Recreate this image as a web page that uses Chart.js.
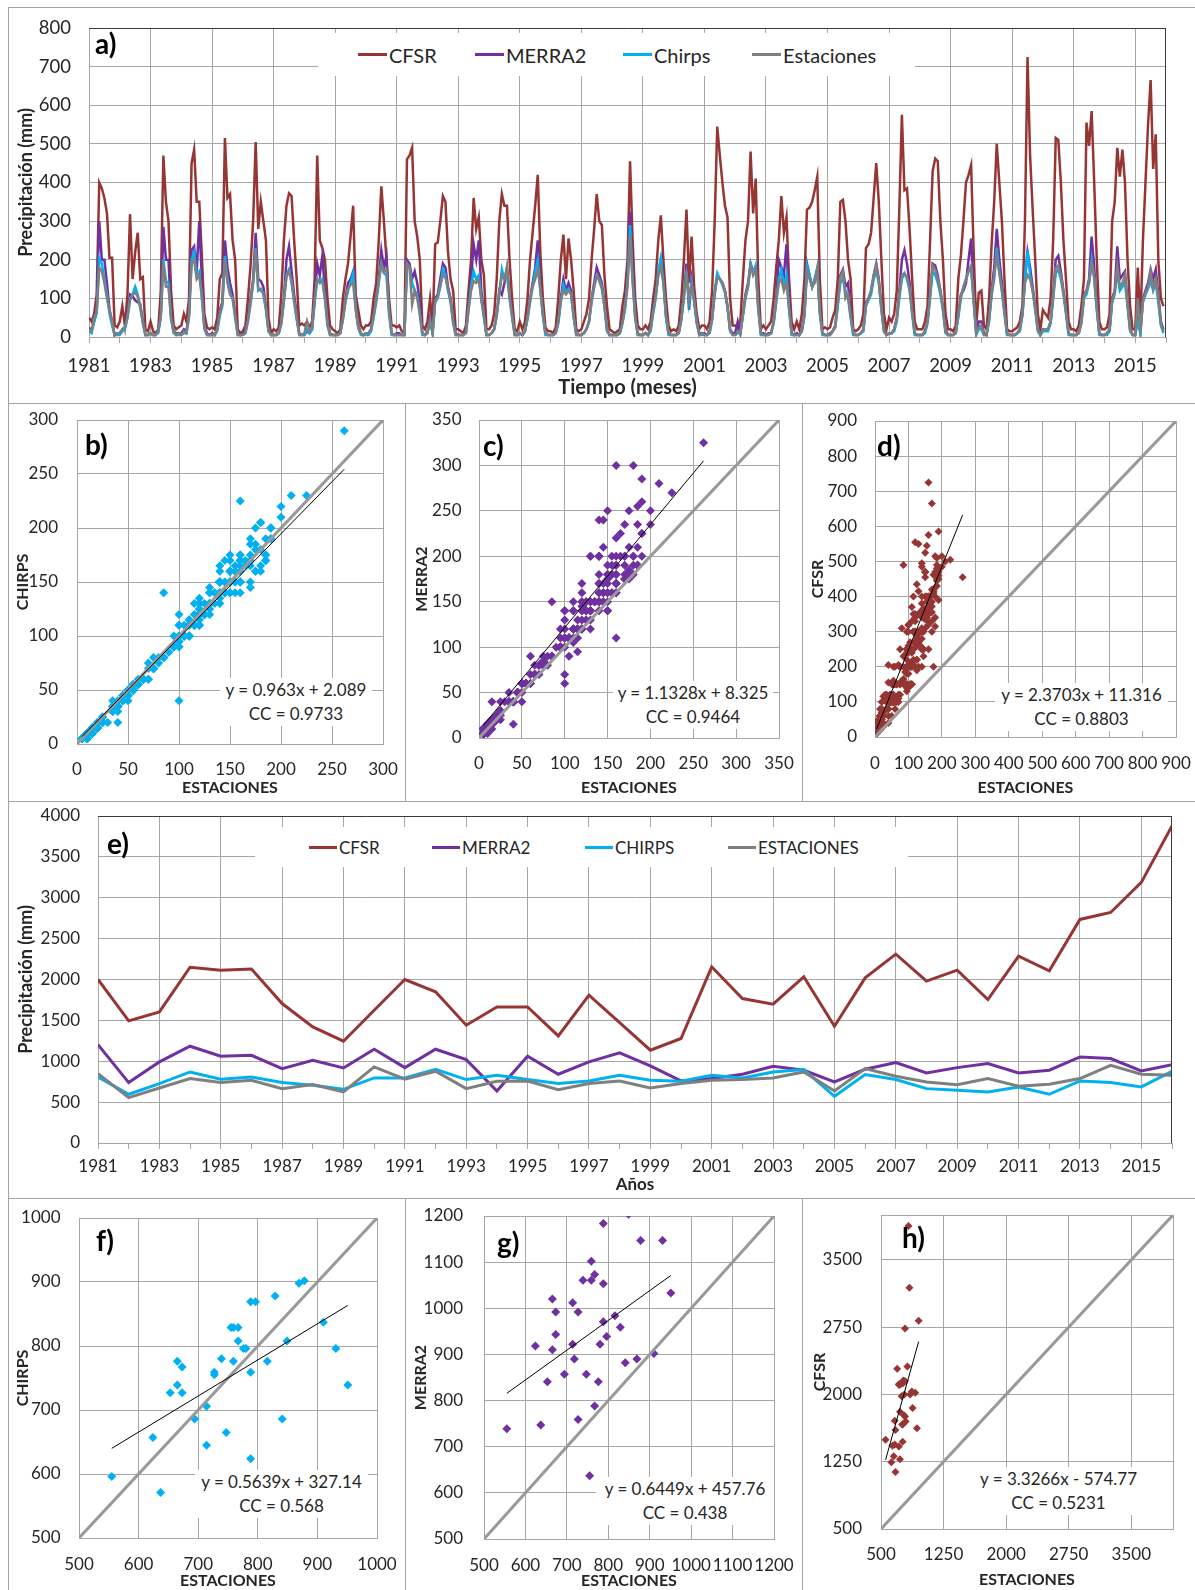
<!DOCTYPE html>
<html lang="es">
<head>
<meta charset="UTF-8">
<title>Precipitación mensual y anual</title>
<script src="https://cdn.jsdelivr.net/npm/chart.js"></script>
<style>
  body { margin: 0; background: #fff; }
  #hoja { position: relative; width: 1195px; height: 1590px; overflow: hidden; font-family: Lato, sans-serif; color: #262626; }
  .pane { position: absolute; }
  .rule { position: absolute; background: #a3a3a3; }
  .tag { position: absolute; font-weight: bold; font-size: 28px; line-height: 30px; color: #000; }
  .leyenda { position: absolute; background: #fff; }
  .leyenda span { position: absolute; top: 0; height: 100%; display: flex; align-items: center; white-space: nowrap; }
  .leyenda i { display: inline-block; height: 3px; margin-right: 2px; }
  .eq { position: absolute; background: #fff; text-align: center; font-size: 17px; line-height: 24px; white-space: nowrap; }
</style>
</head>
<body>
<div id="hoja">
  <canvas id="cA" class="pane"></canvas>
  <canvas id="cB" class="pane"></canvas>
  <canvas id="cC" class="pane"></canvas>
  <canvas id="cD" class="pane"></canvas>
  <canvas id="cE" class="pane"></canvas>
  <canvas id="cF" class="pane"></canvas>
  <canvas id="cG" class="pane"></canvas>
  <canvas id="cH" class="pane"></canvas>

  <!-- panel frame -->
  <div class="rule" style="left:8px;top:7px;width:1187px;height:1px"></div>
  <div class="rule" style="left:8px;top:7px;width:1px;height:1583px"></div>
  <div class="rule" style="left:8px;top:403px;width:1187px;height:1px"></div>
  <div class="rule" style="left:8px;top:801px;width:1187px;height:1px"></div>
  <div class="rule" style="left:8px;top:1198px;width:1187px;height:1px"></div>
  <div class="rule" style="left:405px;top:403px;width:1px;height:398px"></div>
  <div class="rule" style="left:802px;top:403px;width:1px;height:398px"></div>
  <div class="rule" style="left:405px;top:1198px;width:1px;height:392px"></div>
  <div class="rule" style="left:802px;top:1198px;width:1px;height:392px"></div>

  <div class="leyenda" style="left:318px;top:33px;width:597px;height:43px;font-size:20px">
    <span style="left:40px"><i style="width:29px;background:#963634"></i>CFSR</span>
    <span style="left:157px"><i style="width:29px;background:#7030a0"></i>MERRA2</span>
    <span style="left:305px"><i style="width:29px;background:#00b0f0"></i>Chirps</span>
    <span style="left:434px"><i style="width:29px;background:#7f7f7f"></i>Estaciones</span>
  </div>
  <div class="leyenda" style="left:255px;top:827px;width:653px;height:40px;font-size:17px">
    <span style="left:54px"><i style="width:28px;background:#963634"></i>CFSR</span>
    <span style="left:177px"><i style="width:28px;background:#7030a0"></i>MERRA2</span>
    <span style="left:330px"><i style="width:28px;background:#00b0f0"></i>CHIRPS</span>
    <span style="left:473px"><i style="width:28px;background:#7f7f7f"></i>ESTACIONES</span>
  </div>

  <div class="tag" style="left:95px;top:28px">a)</div>
  <div class="tag" style="left:85px;top:429px">b)</div>
  <div class="tag" style="left:483px;top:430px">c)</div>
  <div class="tag" style="left:877px;top:430px">d)</div>
  <div class="tag" style="left:107px;top:828px">e)</div>
  <div class="tag" style="left:96px;top:1225px">f)</div>
  <div class="tag" style="left:497px;top:1227px">g)</div>
  <div class="tag" style="left:902px;top:1222px">h)</div>
</div>

<script>
// monthly precipitation (mm), one row per year Jan..Dec, 1981-2015
const cfsrMensual = [
  [50, 40, 60, 110, 400, 385, 360, 320, 205, 205, 30, 25],
  [40, 80, 30, 110, 318, 150, 220, 270, 150, 155, 20, 15],
  [40, 15, 10, 20, 120, 470, 350, 300, 120, 30, 20, 25],
  [30, 60, 40, 100, 450, 485, 350, 350, 210, 60, 25, 20],
  [25, 20, 50, 150, 165, 515, 360, 370, 250, 200, 20, 10],
  [15, 30, 100, 185, 300, 505, 280, 350, 300, 250, 50, 10],
  [20, 15, 25, 110, 250, 340, 372, 365, 250, 150, 30, 35],
  [30, 40, 25, 40, 150, 470, 250, 230, 200, 100, 30, 20],
  [15, 10, 20, 100, 150, 190, 260, 340, 110, 70, 30, 20],
  [30, 30, 40, 100, 140, 250, 390, 300, 200, 100, 30, 30],
  [25, 30, 15, 10, 460, 470, 490, 300, 260, 200, 30, 20],
  [40, 100, 30, 240, 245, 300, 365, 350, 220, 150, 120, 20],
  [20, 15, 10, 30, 120, 200, 360, 280, 310, 200, 160, 20],
  [20, 30, 60, 150, 300, 370, 340, 340, 200, 100, 20, 15],
  [40, 20, 40, 100, 200, 270, 340, 420, 220, 100, 25, 15],
  [15, 10, 25, 100, 200, 265, 150, 255, 200, 120, 20, 15],
  [20, 40, 60, 100, 200, 280, 370, 300, 290, 160, 80, 20],
  [15, 10, 15, 20, 80, 120, 200, 455, 250, 100, 30, 20],
  [20, 30, 20, 40, 100, 150, 250, 315, 200, 100, 30, 15],
  [20, 15, 30, 100, 200, 330, 140, 260, 130, 60, 20, 30],
  [30, 20, 40, 120, 300, 545, 470, 400, 340, 310, 100, 30],
  [30, 20, 40, 150, 250, 300, 480, 320, 410, 150, 20, 30],
  [20, 30, 40, 100, 180, 250, 365, 270, 310, 150, 40, 20],
  [40, 20, 60, 150, 330, 335, 350, 380, 415, 150, 20, 25],
  [20, 25, 50, 70, 150, 350, 355, 300, 200, 150, 20, 15],
  [20, 30, 60, 230, 240, 270, 360, 450, 350, 200, 60, 20],
  [50, 40, 60, 120, 330, 575, 380, 385, 280, 150, 40, 20],
  [20, 20, 40, 80, 250, 430, 462, 455, 300, 200, 60, 20],
  [20, 15, 30, 150, 210, 300, 400, 420, 445, 220, 30, 115],
  [120, 30, 20, 100, 240, 350, 500, 400, 300, 150, 20, 15],
  [15, 20, 25, 40, 80, 300, 725, 470, 330, 200, 60, 20],
  [70, 60, 50, 100, 250, 515, 510, 400, 250, 150, 40, 20],
  [20, 15, 30, 80, 150, 555, 495, 585, 400, 200, 40, 20],
  [20, 25, 60, 300, 350, 490, 415, 485, 400, 200, 80, 20],
  [20, 180, 30, 250, 400, 550, 665, 435, 525, 200, 100, 80]
];
const merraMensual = [
  [25, 15, 40, 70, 300, 200, 200, 140, 70, 40, 5, 10],
  [10, 20, 25, 60, 110, 105, 95, 90, 85, 40, 5, 5],
  [10, 5, 5, 15, 60, 285, 200, 200, 60, 15, 10, 10],
  [10, 20, 15, 60, 225, 235, 170, 300, 150, 30, 10, 5],
  [10, 5, 20, 70, 90, 250, 180, 140, 110, 60, 10, 5],
  [10, 15, 50, 100, 150, 270, 150, 145, 130, 80, 20, 5],
  [5, 5, 10, 40, 100, 200, 235, 170, 110, 60, 10, 5],
  [5, 15, 10, 20, 100, 190, 160, 210, 120, 40, 10, 5],
  [5, 5, 10, 50, 100, 140, 150, 170, 80, 30, 10, 5],
  [10, 10, 20, 60, 100, 150, 225, 180, 210, 80, 10, 5],
  [10, 10, 5, 5, 200, 190, 150, 170, 140, 90, 10, 5],
  [15, 50, 10, 100, 110, 150, 190, 180, 130, 100, 50, 10],
  [5, 5, 5, 15, 80, 150, 240, 200, 250, 120, 60, 5],
  [5, 10, 20, 60, 120, 110, 140, 180, 110, 60, 10, 5],
  [10, 5, 15, 50, 100, 140, 180, 250, 130, 60, 10, 5],
  [5, 5, 10, 40, 100, 150, 120, 140, 120, 60, 10, 5],
  [5, 10, 20, 40, 100, 140, 180, 160, 140, 90, 20, 5],
  [5, 5, 5, 10, 40, 80, 150, 325, 170, 60, 10, 5],
  [5, 10, 5, 20, 70, 110, 160, 200, 160, 60, 10, 5],
  [5, 5, 10, 50, 110, 190, 70, 150, 100, 40, 10, 10],
  [10, 5, 15, 50, 110, 160, 150, 140, 120, 80, 20, 10],
  [10, 40, 10, 60, 110, 140, 190, 170, 180, 80, 10, 10],
  [5, 10, 10, 40, 100, 200, 180, 160, 240, 90, 10, 5],
  [10, 5, 20, 60, 190, 160, 130, 150, 175, 70, 10, 5],
  [5, 10, 15, 30, 90, 160, 175, 130, 140, 60, 10, 5],
  [5, 10, 20, 90, 100, 120, 160, 190, 150, 80, 20, 5],
  [10, 10, 20, 50, 120, 200, 225, 190, 140, 70, 10, 5],
  [5, 5, 15, 40, 110, 190, 185, 160, 120, 80, 20, 5],
  [5, 5, 10, 60, 110, 120, 140, 200, 255, 100, 10, 40],
  [40, 10, 5, 50, 120, 180, 280, 200, 140, 80, 10, 5],
  [5, 5, 10, 20, 60, 150, 220, 180, 130, 80, 20, 5],
  [20, 20, 20, 40, 110, 200, 210, 170, 120, 70, 10, 5],
  [5, 5, 10, 40, 110, 120, 150, 260, 180, 80, 10, 5],
  [5, 10, 20, 100, 120, 235, 150, 160, 170, 90, 20, 5],
  [5, 60, 10, 100, 120, 140, 175, 150, 175, 110, 40, 20]
];
const chirpsMensual = [
  [15, 10, 40, 60, 205, 190, 150, 110, 60, 30, 5, 5],
  [5, 15, 20, 50, 95, 110, 130, 110, 80, 35, 5, 5],
  [10, 5, 5, 10, 50, 200, 145, 140, 45, 10, 5, 5],
  [5, 10, 10, 50, 200, 220, 160, 170, 100, 20, 5, 5],
  [5, 5, 15, 55, 80, 210, 150, 115, 100, 50, 5, 5],
  [5, 10, 40, 85, 140, 230, 120, 125, 110, 70, 15, 5],
  [5, 5, 10, 35, 90, 160, 175, 140, 90, 45, 5, 5],
  [5, 20, 10, 20, 90, 150, 140, 150, 100, 30, 5, 5],
  [5, 5, 10, 45, 90, 120, 140, 165, 75, 25, 5, 5],
  [5, 5, 15, 50, 90, 140, 190, 165, 160, 60, 5, 5],
  [5, 5, 5, 5, 190, 180, 140, 120, 110, 60, 5, 5],
  [10, 40, 10, 90, 100, 130, 175, 160, 120, 90, 40, 5],
  [5, 5, 5, 10, 70, 130, 170, 150, 160, 100, 50, 5],
  [5, 10, 20, 55, 110, 175, 150, 160, 100, 50, 5, 5],
  [10, 5, 15, 45, 90, 130, 170, 200, 120, 55, 5, 5],
  [5, 5, 10, 35, 90, 135, 115, 125, 110, 50, 5, 5],
  [5, 10, 20, 40, 90, 130, 160, 150, 130, 80, 15, 5],
  [5, 5, 5, 10, 35, 70, 140, 290, 150, 50, 5, 5],
  [5, 10, 5, 15, 60, 100, 170, 205, 140, 50, 5, 5],
  [5, 5, 10, 45, 100, 170, 90, 140, 90, 35, 5, 5],
  [5, 5, 10, 45, 120, 165, 150, 135, 115, 75, 15, 5],
  [5, 10, 10, 55, 100, 130, 190, 165, 185, 70, 5, 5],
  [5, 5, 10, 35, 90, 150, 175, 130, 160, 70, 5, 5],
  [5, 5, 15, 55, 185, 160, 130, 150, 180, 60, 5, 5],
  [5, 5, 15, 25, 80, 140, 150, 120, 100, 50, 5, 5],
  [5, 10, 15, 80, 95, 110, 150, 170, 140, 70, 15, 5],
  [10, 10, 15, 40, 100, 150, 165, 150, 120, 60, 5, 5],
  [5, 5, 10, 35, 100, 170, 160, 140, 110, 70, 10, 5],
  [5, 5, 10, 50, 100, 130, 150, 170, 175, 90, 5, 20],
  [20, 5, 5, 40, 110, 150, 230, 170, 120, 60, 5, 5],
  [5, 5, 10, 15, 55, 150, 225, 160, 120, 70, 15, 5],
  [15, 15, 15, 35, 100, 165, 175, 150, 110, 60, 5, 5],
  [5, 5, 10, 35, 100, 110, 140, 200, 150, 70, 5, 5],
  [5, 5, 15, 90, 110, 170, 120, 130, 140, 80, 15, 5],
  [5, 40, 10, 90, 110, 125, 145, 120, 140, 90, 30, 10]
];
const estMensual = [
  [20, 15, 50, 65, 180, 170, 140, 100, 70, 40, 5, 10],
  [10, 20, 25, 50, 100, 110, 115, 105, 75, 40, 5, 5],
  [10, 5, 5, 15, 55, 190, 130, 130, 50, 15, 5, 10],
  [5, 15, 10, 55, 190, 200, 150, 160, 110, 25, 5, 5],
  [5, 5, 20, 60, 85, 200, 140, 110, 100, 55, 5, 5],
  [5, 10, 45, 90, 140, 225, 125, 120, 115, 75, 15, 5],
  [5, 5, 10, 35, 95, 155, 170, 145, 95, 50, 5, 5],
  [10, 40, 15, 25, 95, 150, 145, 145, 100, 35, 5, 5],
  [5, 5, 10, 45, 95, 125, 135, 140, 70, 25, 10, 5],
  [10, 10, 20, 55, 95, 145, 190, 170, 175, 70, 10, 5],
  [5, 5, 5, 5, 190, 180, 85, 120, 100, 60, 10, 5],
  [10, 45, 10, 95, 105, 135, 160, 155, 125, 95, 35, 5],
  [5, 5, 5, 10, 70, 120, 145, 140, 150, 95, 55, 5],
  [5, 10, 20, 55, 115, 160, 150, 180, 105, 55, 5, 5],
  [10, 5, 15, 50, 95, 130, 150, 175, 125, 60, 10, 5],
  [5, 5, 10, 40, 95, 120, 110, 120, 110, 55, 5, 5],
  [5, 10, 20, 40, 95, 130, 160, 145, 125, 80, 20, 5],
  [5, 5, 5, 10, 35, 75, 130, 262, 140, 50, 5, 5],
  [5, 10, 5, 20, 65, 105, 160, 180, 140, 55, 10, 5],
  [5, 5, 10, 45, 105, 160, 100, 135, 95, 40, 5, 10],
  [5, 5, 10, 45, 115, 155, 150, 140, 120, 80, 20, 5],
  [5, 15, 10, 55, 105, 130, 185, 160, 175, 75, 10, 5],
  [5, 5, 10, 40, 95, 140, 150, 120, 140, 75, 10, 5],
  [5, 5, 15, 55, 170, 150, 130, 140, 175, 65, 10, 5],
  [5, 5, 15, 25, 85, 155, 170, 100, 110, 55, 10, 5],
  [5, 10, 20, 85, 100, 120, 160, 185, 145, 75, 15, 5],
  [10, 10, 20, 45, 110, 160, 165, 155, 125, 65, 10, 5],
  [5, 5, 15, 40, 110, 185, 175, 150, 120, 75, 15, 5],
  [5, 5, 10, 55, 105, 130, 150, 170, 185, 95, 10, 25],
  [30, 5, 5, 45, 110, 160, 210, 165, 120, 65, 10, 5],
  [5, 5, 10, 20, 60, 140, 160, 150, 120, 75, 20, 5],
  [20, 20, 20, 40, 105, 180, 185, 160, 115, 65, 10, 5],
  [5, 5, 10, 40, 105, 120, 140, 190, 155, 75, 10, 5],
  [5, 10, 20, 95, 115, 185, 130, 140, 160, 85, 20, 5],
  [5, 100, 10, 95, 115, 130, 170, 125, 150, 100, 35, 15]
];
const primerAnio = 1981;

// annual totals (mm)
const anios = [1981, 1982, 1983, 1984, 1985, 1986, 1987, 1988, 1989, 1990, 1991, 1992,
  1993, 1994, 1995, 1996, 1997, 1998, 1999, 2000, 2001, 2002, 2003, 2004,
  2005, 2006, 2007, 2008, 2009, 2010, 2011, 2012, 2013, 2014, 2015, 2016];
const cfsrAnual = [2000, 1494, 1604, 2150, 2114, 2127, 1706, 1420, 1245, 1624, 2000, 1849,
  1441, 1665, 1665, 1310, 1808, 1473, 1135, 1278, 2155, 1767, 1698, 2033,
  1429, 2020, 2310, 1980, 2114, 1755, 2286, 2106, 2735, 2820, 3188, 3878];
const merraAnual = [1204, 739, 992, 1184, 1061, 1073, 910, 1012, 918, 1147, 922, 1147,
  1020, 637, 1061, 841, 992, 1102, 943, 759, 788, 841, 939, 890,
  747, 902, 984, 857, 922, 971, 857, 890, 1053, 1033, 882, 959];
const chirpsAnual = [808, 596, 727, 869, 780, 808, 739, 706, 657, 796, 796, 902,
  776, 829, 776, 727, 759, 829, 767, 755, 829, 796, 869, 898,
  571, 837, 776, 665, 645, 624, 686, 596, 759, 739, 686, 878];
const estAnual = [849, 555, 673, 788, 739, 767, 665, 714, 624, 931, 780, 878,
  665, 755, 759, 653, 727, 759, 673, 727, 767, 776, 796, 869,
  637, 910, 816, 747, 714, 788, 694, 718, 788, 951, 841, 829];

// regression [slope, intercept, CC] shown in each scatter
const ajusteChirpsMes = [0.963, 2.089, 0.9733];
const ajusteMerraMes = [1.1328, 8.325, 0.9464];
const ajusteCfsrMes = [2.3703, 11.316, 0.8803];
const ajusteChirpsAnio = [0.5639, 327.14, 0.568];
const ajusteMerraAnio = [0.6449, 457.76, 0.438];
const ajusteCfsrAnio = [3.3266, -574.77, 0.5231];

const ticksCfsrAnio = [500, 1250, 2000, 2750, 3500, 4000];

const RED = '#963634', PURPLE = '#7030a0', BLUE = '#00b0f0', GREY = '#7f7f7f';
const GRID = '#a6a6a6', INK = '#262626', DIAG = '#999999';

Chart.defaults.font.family = "Lato, 'DejaVu Sans', sans-serif";
Chart.defaults.color = INK;
Chart.defaults.animation = false;
Chart.defaults.plugins.legend.display = false;
Chart.defaults.plugins.tooltip.enabled = false;

// dark top/right edge around the time-series plot areas
Chart.register({
  id: 'plotEdge',
  afterDraw(chart, args, opts) {
    if (!opts.color) return;
    const {ctx, chartArea: a} = chart;
    ctx.save();
    ctx.strokeStyle = opts.color;
    ctx.lineWidth = 1;
    ctx.beginPath();
    ctx.moveTo(a.left, Math.round(a.top) + 0.5);
    ctx.lineTo(a.right, Math.round(a.top) + 0.5);
    ctx.moveTo(Math.round(a.right) - 0.5, a.top);
    ctx.lineTo(Math.round(a.right) - 0.5, a.bottom);
    ctx.stroke();
    ctx.restore();
  }
});

function axis(o, horiz, size) {
  return {
    type: 'linear',
    position: horiz ? 'bottom' : 'left',
    min: o.min,
    max: o.max,
    afterBuildTicks: o.values ? s => { s.ticks = o.values.map(v => ({value: v})); } : undefined,
    // fixed axis size, and no extra room reserved for overhanging labels
    afterFit: s => {
      if (horiz) s.height = size; else s.width = size;
      s.paddingTop = s.paddingBottom = s.paddingLeft = s.paddingRight = 0;
    },
    ticks: {
      stepSize: o.step, autoSkip: false, maxRotation: 0, minRotation: 0,
      padding: o.pad, font: {size: o.size || 17}, color: INK,
      callback: o.label || (v => String(v))
    },
    grid: { color: o.grid || GRID, tickColor: GRID, lineWidth: 1, drawTicks: !!o.tick, tickLength: o.tick || 0 },
    border: { color: GRID, width: 1 },
    title: {
      display: true, text: o.title, color: INK,
      font: {size: o.tsize || 16, weight: 'bold'},
      padding: horiz ? {top: 0, bottom: o.tpad} : {top: o.tpad, bottom: 0}
    }
  };
}

function panel(id, box, plot, type, datasets, xo, yo, edge) {
  const cv = document.getElementById(id);
  cv.width = box.w;
  cv.height = box.h;
  cv.style.left = box.x + 'px';
  cv.style.top = box.y + 'px';
  return new Chart(cv, {
    type,
    data: {datasets},
    options: {
      responsive: false,
      devicePixelRatio: 1,
      layout: {padding: {left: 0, bottom: 0, top: plot.t - box.y, right: box.x + box.w - plot.r}},
      scales: {
        x: axis(xo, true, box.y + box.h - plot.b),
        y: axis(yo, false, plot.l - box.x)
      },
      plugins: {plotEdge: {color: edge}}
    }
  });
}

function serie(label, xs, vals, color, width, order) {
  return {
    label, order, borderColor: color, backgroundColor: color, borderWidth: width,
    pointRadius: 0, tension: 0, data: vals.map((v, i) => ({x: xs[i], y: v}))
  };
}

function dispersion(xs, ys, color, r, fit, lim) {
  const lo = Math.min(...xs), hi = Math.max(...xs);
  return [
    {order: 3, data: xs.map((x, i) => ({x, y: ys[i]})), pointStyle: 'rectRot', pointRadius: r,
     backgroundColor: color, borderColor: color, borderWidth: 0},
    {order: 2, showLine: true, pointRadius: 0, borderColor: DIAG, borderWidth: 3,
     data: [{x: lim[0], y: lim[0]}, {x: lim[1], y: lim[1]}]},
    {order: 1, showLine: true, pointRadius: 0, borderColor: '#000', borderWidth: 1,
     data: [{x: lo, y: fit[0] * lo + fit[1]}, {x: hi, y: fit[0] * hi + fit[1]}]}
  ];
}

function ecuacion(fit, left, top, width) {
  const d = document.createElement('div');
  d.className = 'eq';
  d.style.left = left + 'px';
  d.style.top = top + 'px';
  d.style.width = width + 'px';
  const sign = fit[1] < 0 ? '-' : '+';
  d.innerHTML = `y = ${fit[0]}x ${sign} ${Math.abs(fit[1])}<br>CC = ${fit[2]}`;
  document.getElementById('hoja').appendChild(d);
}

// ---- a) monthly series ----
const cfsrM = cfsrMensual.flat(), merraM = merraMensual.flat();
const chirpsM = chirpsMensual.flat(), estM = estMensual.flat();
const meses = cfsrM.map((_, i) => i);

panel('cA', {x: 10, y: 9, w: 1180, h: 392}, {l: 89, t: 28, r: 1166, b: 337}, 'line', [
  serie('CFSR', meses, cfsrM, RED, 2.5, 4),
  serie('MERRA2', meses, merraM, PURPLE, 2.5, 3),
  serie('Chirps', meses, chirpsM, BLUE, 2.5, 2),
  serie('Estaciones', meses, estM, GREY, 2.5, 1)
], {
  min: 0, max: 420, step: 12, pad: 12, size: 18.5, tick: 6,
  label: v => (v % 24 === 0 ? String(primerAnio + v / 12) : ''),
  grid: c => (c.tick && c.tick.value % 24 === 0 ? GRID : 'rgba(0,0,0,0)'),
  title: 'Tiempo (meses)', tsize: 20, tpad: 1
}, {
  min: 0, max: 800, step: 100, pad: 18, size: 18.5, title: 'Precipitación (mm)', tsize: 18, tpad: 5.2
}, '#3a3a3a');

// ---- b) c) d) monthly scatter ----
panel('cB', {x: 10, y: 405, w: 394, h: 395}, {l: 77, t: 420, r: 383, b: 744}, 'scatter',
  dispersion(estM, chirpsM, BLUE, 4.5, ajusteChirpsMes, [0, 300]),
  {min: 0, max: 300, step: 50, pad: 15.8, title: 'ESTACIONES', tpad: 2.4},
  {min: 0, max: 300, step: 50, pad: 19, title: 'CHIRPS', tpad: 3.4});
ecuacion(ajusteChirpsMes, 220, 678, 152);

panel('cC', {x: 407, y: 405, w: 394, h: 395}, {l: 479, t: 420, r: 779, b: 738}, 'scatter',
  dispersion(estM, merraM, PURPLE, 4.5, ajusteMerraMes, [0, 350]),
  {min: 0, max: 350, step: 50, pad: 15.8, title: 'ESTACIONES', tpad: 2.4},
  {min: 0, max: 350, step: 50, pad: 17.5, title: 'MERRA2', tpad: 5.4});
ecuacion(ajusteMerraMes, 613, 681, 160);

panel('cD', {x: 804, y: 405, w: 389, h: 395}, {l: 875, t: 421, r: 1176, b: 737}, 'scatter',
  dispersion(estM, cfsrM, RED, 4, ajusteCfsrMes, [0, 900]),
  {min: 0, max: 900, step: 100, pad: 16, title: 'ESTACIONES', tpad: 2.4},
  {min: 0, max: 900, step: 100, pad: 18, title: 'CFSR', tpad: 4.4});
ecuacion(ajusteCfsrMes, 995, 683, 173);

// ---- e) annual series ----
panel('cE', {x: 10, y: 803, w: 1180, h: 394}, {l: 98, t: 816, r: 1172, b: 1143}, 'line', [
  serie('CFSR', anios, cfsrAnual, RED, 3, 4),
  serie('MERRA2', anios, merraAnual, PURPLE, 3, 3),
  serie('CHIRPS', anios, chirpsAnual, BLUE, 3, 2),
  serie('ESTACIONES', anios, estAnual, GREY, 3, 1)
], {
  min: anios[0], max: anios[anios.length - 1], step: 1, pad: 7.8, tick: 6,
  label: v => ((v - anios[0]) % 2 === 0 ? String(v) : ''),
  grid: c => (c.tick && (c.tick.value - anios[0]) % 2 === 0 ? GRID : 'rgba(0,0,0,0)'),
  title: 'Años', tsize: 17, tpad: 1.8
}, {
  min: 0, max: 4000, step: 500, pad: 18, title: 'Precipitación (mm)', tsize: 18, tpad: 5.2
}, '#3a3a3a');

// ---- f) g) h) annual scatter ----
panel('cF', {x: 10, y: 1200, w: 394, h: 390}, {l: 79, t: 1218, r: 377, b: 1538}, 'scatter',
  dispersion(estAnual, chirpsAnual, BLUE, 4.5, ajusteChirpsAnio, [500, 1000]),
  {min: 500, max: 1000, step: 100, pad: 16.8, title: 'ESTACIONES', tpad: 0},
  {min: 500, max: 1000, step: 100, pad: 18.5, title: 'CHIRPS', tpad: 3.4});
ecuacion(ajusteChirpsAnio, 195, 1470, 173);

panel('cG', {x: 407, y: 1200, w: 394, h: 390}, {l: 484, t: 1216, r: 774, b: 1539}, 'scatter',
  dispersion(estAnual, merraAnual, PURPLE, 4.5, ajusteMerraAnio, [500, 1200]),
  {min: 500, max: 1200, step: 100, pad: 16.8, title: 'ESTACIONES', tpad: 0},
  {min: 500, max: 1200, step: 100, pad: 21, title: 'MERRA2', tpad: 4.4});
ecuacion(ajusteMerraAnio, 596, 1477, 178);

const hLabel = v => (v === ticksCfsrAnio[ticksCfsrAnio.length - 1] ? '' : String(v));
panel('cH', {x: 804, y: 1200, w: 389, h: 390}, {l: 881, t: 1215, r: 1173, b: 1529}, 'scatter',
  dispersion(estAnual, cfsrAnual, RED, 4, ajusteCfsrAnio, [500, 4000]),
  {min: 500, max: 4000, values: ticksCfsrAnio, label: hLabel, pad: 15.5, title: 'ESTACIONES', tpad: 0.4},
  {min: 500, max: 4000, values: ticksCfsrAnio, label: hLabel, pad: 19, title: 'CFSR', tpad: 6.4});
ecuacion(ajusteCfsrAnio, 975, 1467, 167);
</script>
</body>
</html>
